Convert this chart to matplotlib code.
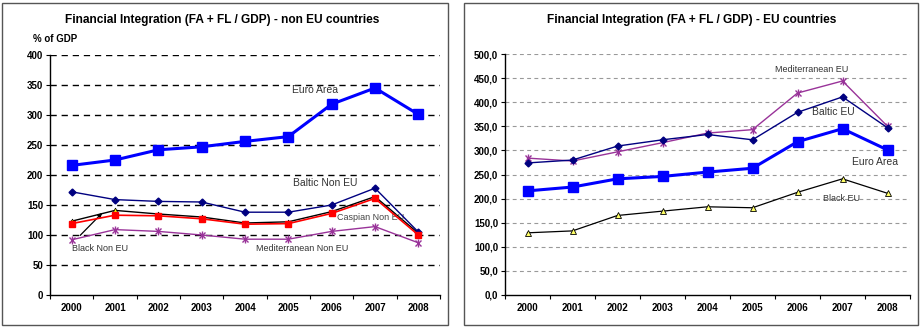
import matplotlib.pyplot as plt
from matplotlib.patches import Rectangle

plt.rcParams['font.family'] = ['Liberation Sans', 'DejaVu Sans']

years = ['2000', '2001', '2002', '2003', '2004', '2005', '2006', '2007', '2008']

# non EU countries
euro_area = [216, 225, 242, 247, 256, 264, 318, 345, 301]
baltic_non_eu = [172, 159, 156, 155, 138, 138, 150, 178, 105]
black_non_eu = [123, 141, 135, 130, 120, 122, 139, 164, 103]
caspian_non_eu = [119, 133, 132, 127, 118, 119, 136, 161, 100]
med_non_eu = [92, 109, 106, 100, 93, 93, 106, 114, 87]

# EU countries
med_eu = [284, 278, 297, 316, 336, 343, 419, 444, 350]
baltic_eu = [274, 280, 309, 322, 333, 322, 379, 411, 347]
euro_area_eu = [216, 224, 241, 246, 255, 263, 318, 345, 301]
black_eu = [129, 133, 165, 174, 183, 181, 213, 241, 211]

x = list(range(len(years)))

fig = plt.figure(figsize=(9.21, 3.28), dpi=100)

# panel frames
for x0, w in [(2, 446), (464, 454)]:
    fig.patches.append(Rectangle((x0 / 921, 3 / 328), w / 921, 322 / 328,
                                 transform=fig.transFigure, fill=False,
                                 edgecolor='#555555', linewidth=1.0))


def style_axes(ax, ymax, step, fmt, grid_color, grid_lw, dash):
    ax.set_xlim(-0.5, 8.5)
    ax.set_ylim(0, ymax)
    ax.set_xticks(x)
    ax.set_xticklabels(years, fontsize=7, fontweight='bold')
    ax.set_xticks([i + 0.5 for i in range(-1, 9)], minor=True)
    ax.tick_params(axis='x', which='major', length=0, pad=6)
    ax.tick_params(axis='x', which='minor', length=3, direction='out', width=0.8)
    ticks = list(range(0, ymax + 1, step))
    ax.set_yticks(ticks)
    ax.set_yticklabels([fmt(t) for t in ticks], fontsize=7, fontweight='bold')
    ax.tick_params(axis='y', length=3, width=0.8, pad=2)
    for t in ticks[1:]:
        ax.axhline(t, color=grid_color, linestyle=(0, dash), linewidth=grid_lw, zorder=0)
    ax.spines['top'].set_visible(False)
    ax.spines['right'].set_visible(False)
    ax.spines['left'].set_linewidth(1.0)
    ax.spines['bottom'].set_linewidth(1.0)


def star_line(ax, values, color):
    ax.plot(x, values, color=color, linewidth=1.0, marker='x', markersize=5,
            markeredgewidth=1.0, zorder=4)
    ax.plot(x, values, linestyle='none', marker='|', markersize=5.5,
            markeredgewidth=1.0, color=color, zorder=4)


# left chart
ax1 = fig.add_axes([50 / 921, 1 - 295 / 328, 390 / 921, 240 / 328])
style_axes(ax1, 400, 50, lambda t: str(t), 'black', 1.0, (4.5, 3.5))
ax1.plot(x, euro_area, color='#0000FF', linewidth=2.2, marker='s', markersize=7, zorder=5)
ax1.plot(x, baltic_non_eu, color='#000080', linewidth=1.0, marker='D', markersize=3.5, zorder=4)
ax1.plot(x, black_non_eu, color='black', linewidth=1.0, marker='^', markersize=3.5,
         markerfacecolor='#FFFF00', markeredgecolor='black', markeredgewidth=0.5, zorder=3)
ax1.plot(x, caspian_non_eu, color='#FF0000', linewidth=1.2, marker='s', markersize=5,
         markeredgecolor='#FF0000', zorder=4)
star_line(ax1, med_non_eu, '#993399')
ax1.text(5.62, 342, 'Euro Area', fontsize=7.5, color='#333333', ha='center', va='center')
ax1.text(5.85, 187, 'Baltic Non EU', fontsize=7.5, color='#333333', ha='center', va='center')
ax1.text(6.9, 130, 'Caspian Non EU', fontsize=6.5, color='#444444', ha='center', va='center')
ax1.text(5.32, 77, 'Mediterranean Non EU', fontsize=6.5, color='#333333', ha='center', va='center')
ax1.text(0.65, 77, 'Black Non EU', fontsize=6.5, color='#333333', ha='center', va='center')
ax1.annotate('', xy=(0.75, 140), xytext=(0.15, 96),
             arrowprops=dict(arrowstyle='-|>', color='black', lw=0.9, mutation_scale=6))
fig.text(222 / 921, 1 - 20 / 328, 'Financial Integration (FA + FL / GDP) - non EU countries',
         fontsize=8.6, fontweight='bold', ha='center', va='center')
fig.text(33 / 921, 1 - 39 / 328, '% of GDP', fontsize=7, fontweight='bold',
         ha='left', va='center')

# right chart
ax2 = fig.add_axes([505 / 921, 1 - 295 / 328, 405 / 921, 241 / 328])
style_axes(ax2, 500, 50, lambda t: f'{t},0', '#999999', 0.8, (3.5, 3))
star_line(ax2, med_eu, '#993399')
ax2.plot(x, baltic_eu, color='#000080', linewidth=1.0, marker='D', markersize=3.5, zorder=4)
ax2.plot(x, euro_area_eu, color='#0000FF', linewidth=2.2, marker='s', markersize=7, zorder=5)
ax2.plot(x, black_eu, color='black', linewidth=0.9, marker='^', markersize=4.5,
         markerfacecolor='#FFFF66', markeredgecolor='black', markeredgewidth=0.6, zorder=3)
ax2.text(6.32, 467, 'Mediterranean EU', fontsize=6.5, color='#333333', ha='center', va='center')
ax2.text(6.79, 380, 'Baltic EU', fontsize=7.5, color='#333333', ha='center', va='center')
ax2.text(7.72, 276, 'Euro Area', fontsize=7.5, color='#333333', ha='center', va='center')
ax2.text(6.97, 201, 'Black EU', fontsize=6.5, color='#333333', ha='center', va='center')
fig.text(692 / 921, 1 - 20 / 328, 'Financial Integration (FA + FL / GDP) - EU countries',
         fontsize=8.6, fontweight='bold', ha='center', va='center')

fig.savefig('out.png', dpi=100)
